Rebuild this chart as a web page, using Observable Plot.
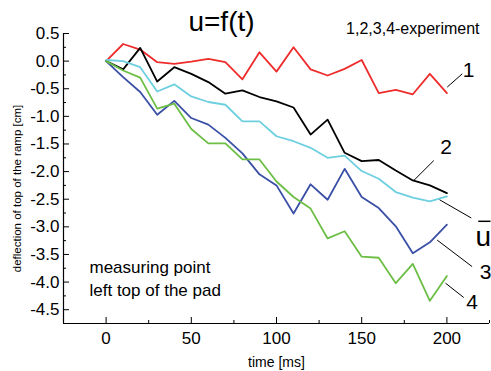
<!DOCTYPE html>
<html><head><meta charset="utf-8">
<script src="https://cdn.jsdelivr.net/npm/d3@7"></script>
<script src="https://cdn.jsdelivr.net/npm/@observablehq/plot@0.6"></script>
<style>body{margin:0;background:#fff;}</style>
</head><body><div id="chart"></div>
<script>
const time = [0,10,20,30,40,50,60,70,80,90,100,110,120,130,140,150,160,170,180,190,200];
const exp1 = [0,0.31,0.21,-0.02,-0.05,-0.01,0.04,-0.02,-0.33,0.16,-0.19,0.25,-0.15,-0.26,-0.14,0.02,-0.58,-0.52,-0.60,-0.23,-0.58];
const exp2 = [0,-0.15,0.24,-0.37,-0.11,-0.23,-0.38,-0.59,-0.53,-0.65,-0.73,-0.84,-1.33,-1.06,-1.66,-1.81,-1.79,-1.98,-2.16,-2.25,-2.39];
const meanU = [0.02,0.0,-0.11,-0.55,-0.42,-0.64,-0.74,-0.79,-1.09,-1.09,-1.36,-1.45,-1.57,-1.75,-1.71,-1.99,-2.13,-2.37,-2.47,-2.54,-2.45];
const exp3 = [0,-0.29,-0.56,-0.97,-0.72,-1.03,-1.15,-1.39,-1.67,-2.05,-2.25,-2.76,-2.23,-2.51,-1.95,-2.46,-2.66,-2.99,-3.48,-3.28,-2.96];
const exp4 = [0,-0.17,-0.30,-0.86,-0.77,-1.23,-1.49,-1.49,-1.78,-1.78,-2.18,-2.46,-2.67,-3.21,-3.08,-3.54,-3.56,-4.02,-3.67,-4.34,-3.89];

const seriesNames = ["1","2","ū","3","4"];
const seriesColors = ["#ee2c2c","#000000","#6dcfe0","#3a4fa6","#6cbe45"];
const seriesValues = [exp1, exp2, meanU, exp3, exp4];

const xMajor = [0,50,100,150,200];
const xMinor = [25,75,125,175,225];
const yMajor = [0.5,0,-0.5,-1,-1.5,-2,-2.5,-3,-3.5,-4,-4.5];
const yMinor = [0.25,-0.25,-0.75,-1.25,-1.75,-2.25,-2.75,-3.25,-3.75,-4.25];
const xDomain = [-25,225];
const yDomain = [-4.75,0.5];

// annotation labels (data coordinates)
const labelText = ["1","2","u","3","4"];
const labelX = [212.7,199.6,221.3,222.7,214.8];
const labelY = [-0.17,-1.56,-3.19,-3.82,-4.37];
const labelSize = [21,21,28,21,21];
const leaderX1 = [200.2,180.6,195.7,194.3,199.2];
const leaderY1 = [-0.47,-2.16,-2.51,-3.24,-4.02];
const leaderX2 = [209.0,192.3,214.3,214.8,209.9];
const leaderY2 = [-0.23,-1.80,-2.84,-3.72,-4.28];
const overbar = [{x1:218.4,x2:225.6,y:-2.90}];

const rows = [];
seriesValues.forEach((vals, s) => vals.forEach((v, i) => rows.push({t: time[i], v, s: seriesNames[s]})));
const labels = labelText.map((t, i) => ({t, x: labelX[i], y: labelY[i], size: labelSize[i]}));
const leaders = leaderX1.map((x1, i) => ({x1, y1: leaderY1[i], x2: leaderX2[i], y2: leaderY2[i]}));

const W = 491, H = 371, mL = 63, mR = 2, mT = 33, mB = 48;
const ph = H - mT - mB, pw = W - mL - mR;

const chart = Plot.plot({
  width: W, height: H,
  marginLeft: mL, marginRight: mR, marginTop: mT, marginBottom: mB,
  style: {fontFamily: "Arial, 'Liberation Sans', sans-serif", background: "white", color: "black"},
  x: {domain: xDomain},
  y: {domain: yDomain},
  color: {domain: seriesNames, range: seriesColors},
  marks: [
    Plot.axisX(xMajor, {tickSize: 0, tickPadding: 8, fontSize: 17, label: null, tickFormat: d => String(d)}),
    Plot.axisY(yMajor, {tickSize: 0, tickPadding: 4, fontSize: 17, label: null, tickFormat: d => d.toFixed(1)}),
    Plot.tickX(xMajor, {x: d => d, insetTop: ph - 6, stroke: "black"}),
    Plot.tickX(xMinor, {x: d => d, insetTop: ph - 3, stroke: "black"}),
    Plot.tickY(yMajor, {y: d => d, insetRight: pw - 6, stroke: "black"}),
    Plot.tickY(yMinor, {y: d => d, insetRight: pw - 3, stroke: "black"}),
    Plot.ruleX([xDomain[0]], {stroke: "black", strokeWidth: 1.2}),
    Plot.ruleY([yDomain[0]], {stroke: "black", strokeWidth: 1.2}),
    Plot.line(rows, {x: "t", y: "v", z: "s", stroke: "s", strokeWidth: 1.8}),
    Plot.link(leaders, {x1: "x1", y1: "y1", x2: "x2", y2: "y2", stroke: "black", strokeWidth: 1}),
    Plot.link(overbar, {x1: "x1", y1: "y", x2: "x2", y2: "y", stroke: "black", strokeWidth: 1.5}),
    Plot.text(labels, {x: "x", y: "y", text: "t", fontSize: d => d.size, fill: "black"}),
    Plot.text(["u=f(t)"], {frameAnchor: "top", lineAnchor: "middle", dx: -55, dy: -11, fontSize: 28, fill: "black"}),
    Plot.text(["1,2,3,4-experiment"], {frameAnchor: "top-right", textAnchor: "end", lineAnchor: "middle", dx: -10, dy: -5, fontSize: 16, fill: "black"}),
    Plot.text(["measuring point\nleft top of the pad"], {frameAnchor: "bottom-left", textAnchor: "start", lineAnchor: "top", dx: 26, dy: -67, fontSize: 17, lineHeight: 1.37, fill: "black"}),
    Plot.text(["time [ms]"], {frameAnchor: "bottom", lineAnchor: "middle", dy: 39, fontSize: 14, fill: "black"}),
    Plot.text(["deflection of top of the ramp [cm]"], {frameAnchor: "left", textAnchor: "middle", lineAnchor: "middle", rotate: -90, dx: -46, dy: 10, fontSize: 11.5, fill: "black"})
  ]
});
document.getElementById("chart").appendChild(chart);
</script>
</body></html>
